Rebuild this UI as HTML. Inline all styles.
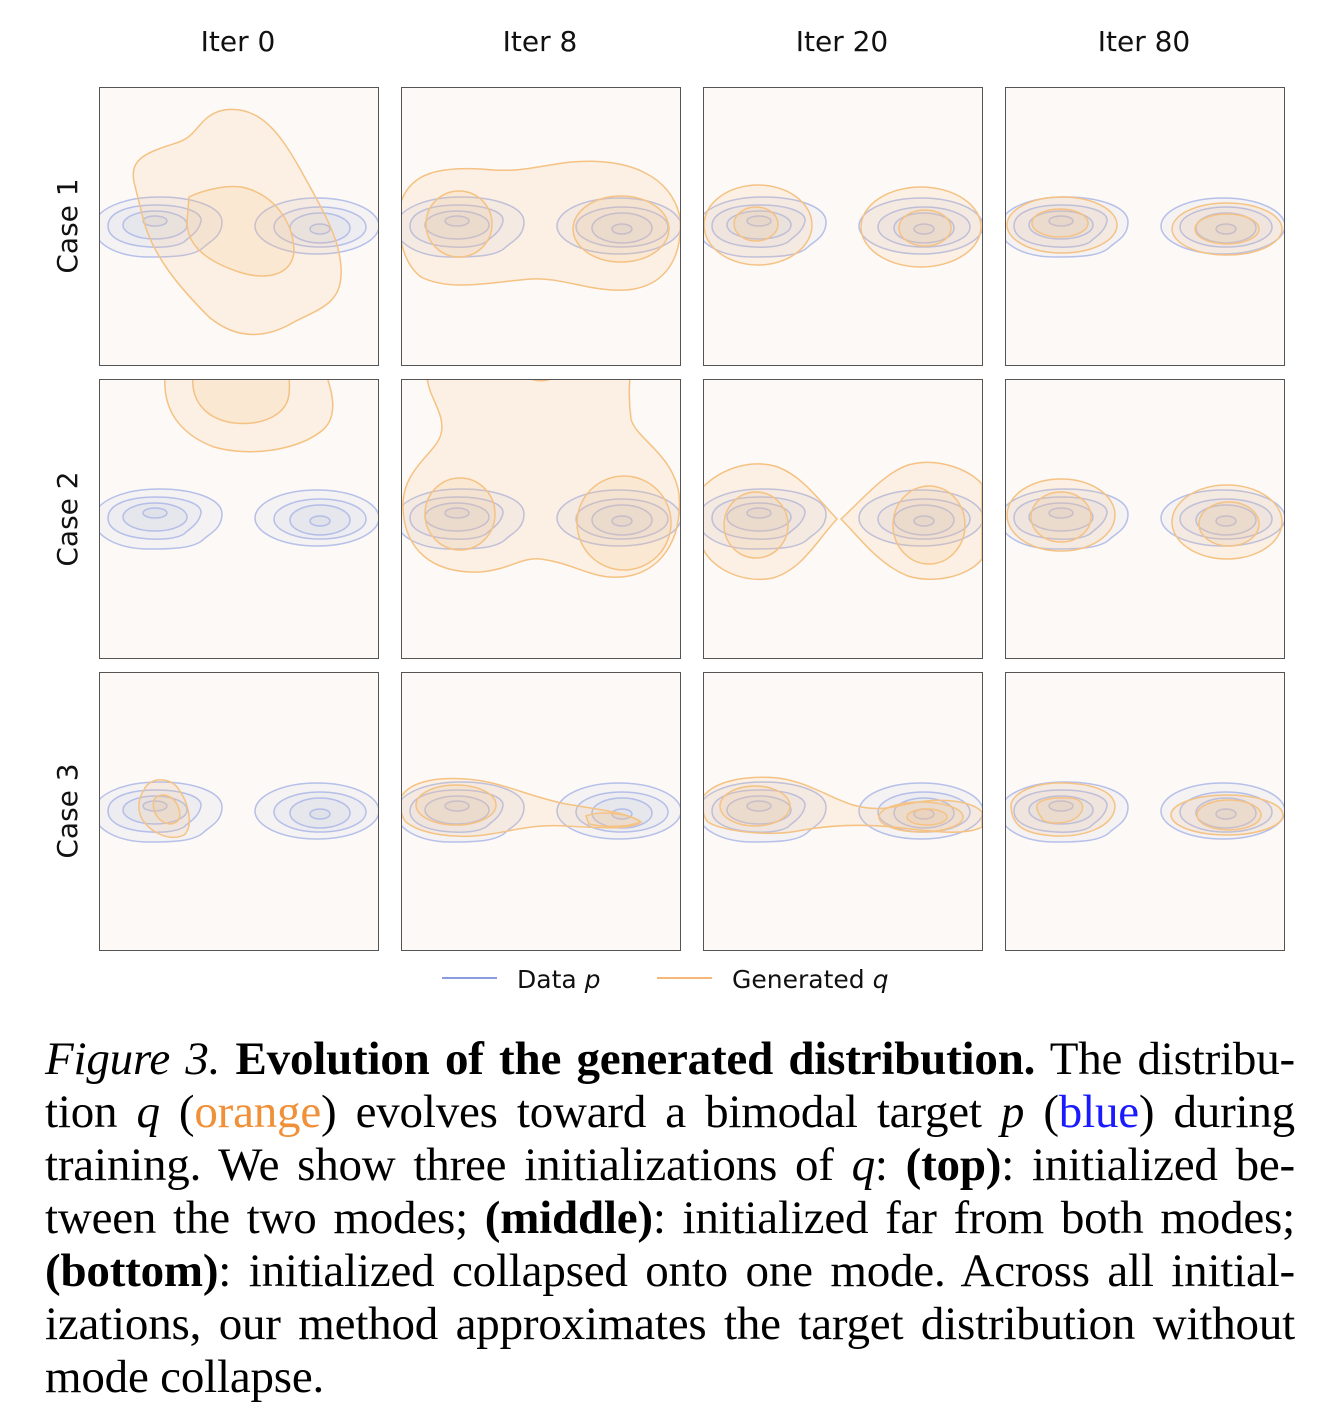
<!DOCTYPE html>
<html><head><meta charset="utf-8"><style>
html,body{margin:0;padding:0;background:#fff;}
body{width:1328px;height:1408px;position:relative;overflow:hidden;}
.cap{position:absolute;left:45px;width:1250px;font-family:"Liberation Serif",serif;font-size:47px;letter-spacing:-0.2px;line-height:53px;color:#000;}
.cap div{text-align:justify;text-align-last:justify;white-space:nowrap;height:53px;}
.cap div.last{text-align-last:left;}
</style></head><body>
<svg width="1328" height="1010" style="position:absolute;left:0;top:0" font-family="DejaVu Sans, sans-serif">
<defs>
<clipPath id="cp"><rect x="0" y="0" width="279" height="279"/></clipPath>
<g id="blue" fill="rgba(175,185,220,0.10)" stroke="#aab6e6" stroke-width="1.5" stroke-opacity="0.85">
<path d="M-5,140 C-5,122 25,110 60,110 C95,110 123,120 123,135 C123,150 110,155 105,160 C95,170 70,170 50,170 C20,170 -5,158 -5,140 Z"/>
<path d="M9,139 C9,125 30,118 56,118 C85,118 103,125 102,134 C100,145 90,150 85,155 C75,161 55,161 40,159 C20,156 9,149 9,139 Z"/>
<ellipse cx="56" cy="138" rx="32" ry="14"/>
<ellipse cx="56" cy="134" rx="12" ry="5"/>
<ellipse cx="218" cy="139" rx="62" ry="28"/>
<ellipse cx="221" cy="140" rx="46" ry="20"/>
<ellipse cx="221" cy="141" rx="30" ry="15"/>
<ellipse cx="221" cy="142" rx="10" ry="5"/>
</g>
</defs>
<g font-size="28" fill="#111" text-anchor="middle">
<text x="238" y="51">Iter 0</text><text x="540" y="51">Iter 8</text><text x="842" y="51">Iter 20</text><text x="1144" y="51">Iter 80</text>
<text transform="translate(77,226) rotate(-90)">Case 1</text>
<text transform="translate(77,519) rotate(-90)">Case 2</text>
<text transform="translate(77,811) rotate(-90)">Case 3</text>
</g>
<g fill="rgba(248,190,130,0.16)" stroke="#f5c283" stroke-width="1.5">
<g transform="translate(99,87)" clip-path="url(#cp)"><rect width="279" height="279" fill="#fcf9f6" stroke="none"/>
<use href="#blue"/>
<path d="M35,95 C30,70 50,65 80,55 C100,48 100,28 125,23 C160,18 180,45 200,80 C225,125 240,150 242,180 C244,215 225,220 195,235 C170,250 140,255 110,230 C80,200 55,170 45,135 Z"/>
<path d="M90,110 C100,105 130,95 150,102 C180,112 195,140 195,165 C192,190 165,193 140,185 C110,175 88,160 88,135 Z"/>
</g>
<g transform="translate(401,87)" clip-path="url(#cp)"><rect width="279" height="279" fill="#fcf9f6" stroke="none"/>
<use href="#blue"/>
<path d="M0,115 C10,85 40,80 80,82 C120,86 130,80 170,75 C230,70 270,90 279,130 C282,170 265,200 225,203 C190,205 160,190 130,192 C90,195 50,205 20,190 C0,175 -5,140 0,115 Z"/>
<ellipse cx="58" cy="137" rx="33" ry="33"/>
<ellipse cx="220" cy="142" rx="48" ry="33"/>
</g>
<g transform="translate(703,87)" clip-path="url(#cp)"><rect width="279" height="279" fill="#fcf9f6" stroke="none"/>
<use href="#blue"/>
<ellipse cx="55" cy="138" rx="54" ry="40"/>
<ellipse cx="53" cy="137" rx="22" ry="17"/>
<ellipse cx="218" cy="140" rx="60" ry="40"/>
<ellipse cx="222" cy="141" rx="26" ry="18"/>
</g>
<g transform="translate(1005,87)" clip-path="url(#cp)"><rect width="279" height="279" fill="#fcf9f6" stroke="none"/>
<use href="#blue"/>
<ellipse cx="57" cy="138" rx="55" ry="28"/>
<ellipse cx="55" cy="136" rx="28" ry="14"/>
<ellipse cx="222" cy="142" rx="55" ry="26"/>
<ellipse cx="222" cy="142" rx="32" ry="15"/>
</g>
<g transform="translate(99,379)" clip-path="url(#cp)"><rect width="279" height="279" fill="#fcf9f6" stroke="none"/>
<use href="#blue"/>
<path d="M66,-2 C64,30 80,55 115,68 C150,78 200,72 225,50 C240,35 232,10 228,-2 Z"/>
<path d="M94,-2 C92,20 105,40 135,44 C165,47 188,35 190,15 C191,5 190,0 190,-2 Z"/>
</g>
<g transform="translate(401,379)" clip-path="url(#cp)"><rect width="279" height="279" fill="#fcf9f6" stroke="none"/>
<use href="#blue"/>
<path d="M26,-2 C28,20 45,35 40,55 C35,75 0,90 2,130 C4,170 30,195 80,193 C110,190 120,178 140,180 C175,185 190,200 220,198 C260,195 282,160 278,115 C272,75 235,60 230,40 C228,25 228,10 229,-2 Z"/>
<path d="M128,-2 C130,3 150,3 152,-2 Z"/>
<ellipse cx="59" cy="135" rx="35" ry="36"/>
<ellipse cx="223" cy="144" rx="47" ry="47"/>
</g>
<g transform="translate(703,379)" clip-path="url(#cp)"><rect width="279" height="279" fill="#fcf9f6" stroke="none"/>
<use href="#blue"/>
<path d="M0,108 C20,88 50,80 75,88 C100,98 115,120 134,140 C115,160 100,190 70,199 C40,205 10,190 0,170 Z"/>
<path d="M138,140 C160,120 180,95 205,86 C235,78 265,90 279,105 L279,180 C265,198 230,205 205,197 C175,185 158,160 138,140 Z"/>
<ellipse cx="53" cy="146" rx="32" ry="33"/>
<ellipse cx="226" cy="146" rx="36" ry="39"/>
</g>
<g transform="translate(1005,379)" clip-path="url(#cp)"><rect width="279" height="279" fill="#fcf9f6" stroke="none"/>
<use href="#blue"/>
<ellipse cx="56" cy="136" rx="54" ry="36"/>
<ellipse cx="56" cy="138" rx="30" ry="25"/>
<ellipse cx="222" cy="143" rx="55" ry="37"/>
<ellipse cx="224" cy="145" rx="30" ry="22"/>
</g>
<g transform="translate(99,672)" clip-path="url(#cp)"><rect width="279" height="279" fill="#fcf9f6" stroke="none"/>
<use href="#blue"/>
<path d="M45,118 C50,105 70,105 78,115 C90,130 95,155 85,163 C70,170 50,160 42,145 C38,135 40,125 45,118 Z"/>
<path d="M55,128 C60,120 72,122 78,132 C84,145 80,152 70,152 C60,150 52,140 55,128 Z"/>
</g>
<g transform="translate(401,672)" clip-path="url(#cp)"><rect width="279" height="279" fill="#fcf9f6" stroke="none"/>
<use href="#blue"/>
<path d="M0,125 C10,108 40,104 75,108 C105,112 130,125 165,132 C200,138 225,140 240,150 C230,158 200,156 165,154 C135,152 115,158 90,162 C55,168 20,162 5,150 C0,145 -2,132 0,125 Z"/>
<ellipse cx="55" cy="133" rx="40" ry="20"/>
<path d="M185,144 C200,138 230,142 240,150 C225,156 200,155 188,152 Z"/>
</g>
<g transform="translate(703,672)" clip-path="url(#cp)"><rect width="279" height="279" fill="#fcf9f6" stroke="none"/>
<use href="#blue"/>
<path d="M0,125 C10,110 40,103 75,106 C105,110 125,125 150,133 C175,140 190,135 205,132 C240,124 270,130 279,140 L279,155 C260,165 220,158 190,155 C160,152 130,153 100,158 C70,165 20,160 5,150 C0,145 -2,132 0,125 Z"/>
<ellipse cx="52" cy="134" rx="35" ry="20"/>
<ellipse cx="218" cy="145" rx="42" ry="15"/>
<ellipse cx="224" cy="145" rx="20" ry="8"/>
</g>
<g transform="translate(1005,672)" clip-path="url(#cp)"><rect width="279" height="279" fill="#fcf9f6" stroke="none"/>
<use href="#blue"/>
<path d="M6,132 C10,118 35,110 60,111 C90,112 110,120 110,135 C108,155 80,165 50,164 C20,162 6,155 6,132 Z"/>
<path d="M32,133 C35,127 50,125 65,126 C78,127 80,135 75,142 C68,152 45,153 38,148 C34,142 31,138 32,133 Z"/>
<ellipse cx="222" cy="143" rx="56" ry="20"/>
<ellipse cx="224" cy="143" rx="32" ry="15"/>
</g>
</g>
<g fill="none" stroke="#555" stroke-width="1">
<rect x="99.5" y="87.5" width="279" height="278"/><rect x="401.5" y="87.5" width="279" height="278"/><rect x="703.5" y="87.5" width="279" height="278"/><rect x="1005.5" y="87.5" width="279" height="278"/>
<rect x="99.5" y="379.5" width="279" height="279"/><rect x="401.5" y="379.5" width="279" height="279"/><rect x="703.5" y="379.5" width="279" height="279"/><rect x="1005.5" y="379.5" width="279" height="279"/>
<rect x="99.5" y="672.5" width="279" height="278"/><rect x="401.5" y="672.5" width="279" height="278"/><rect x="703.5" y="672.5" width="279" height="278"/><rect x="1005.5" y="672.5" width="279" height="278"/>
</g>
<line x1="442" y1="978" x2="497" y2="978" stroke="#8a9be0" stroke-width="2"/>
<line x1="657" y1="978" x2="712" y2="978" stroke="#f5b878" stroke-width="2"/>
<g font-size="25" fill="#111"><text x="517" y="988">Data <tspan font-style="italic">p</tspan></text><text x="732" y="988">Generated <tspan font-style="italic">q</tspan></text></g>
</svg>
<div class="cap" style="top:1033px">
<div><i>Figure 3.</i> <b>Evolution of the generated distribution.</b> The distribu-</div>
<div>tion <i>q</i> (<span style="color:#f0913a">orange</span>) evolves toward a bimodal target <i>p</i> (<span style="color:#1a1aff">blue</span>) during</div>
<div>training. We show three initializations of <i>q</i>: <b>(top)</b>: initialized be-</div>
<div>tween the two modes; <b>(middle)</b>: initialized far from both modes;</div>
<div><b>(bottom)</b>: initialized collapsed onto one mode. Across all initial-</div>
<div>izations, our method approximates the target distribution without</div>
<div class="last">mode collapse.</div>
</div>
</body></html>
